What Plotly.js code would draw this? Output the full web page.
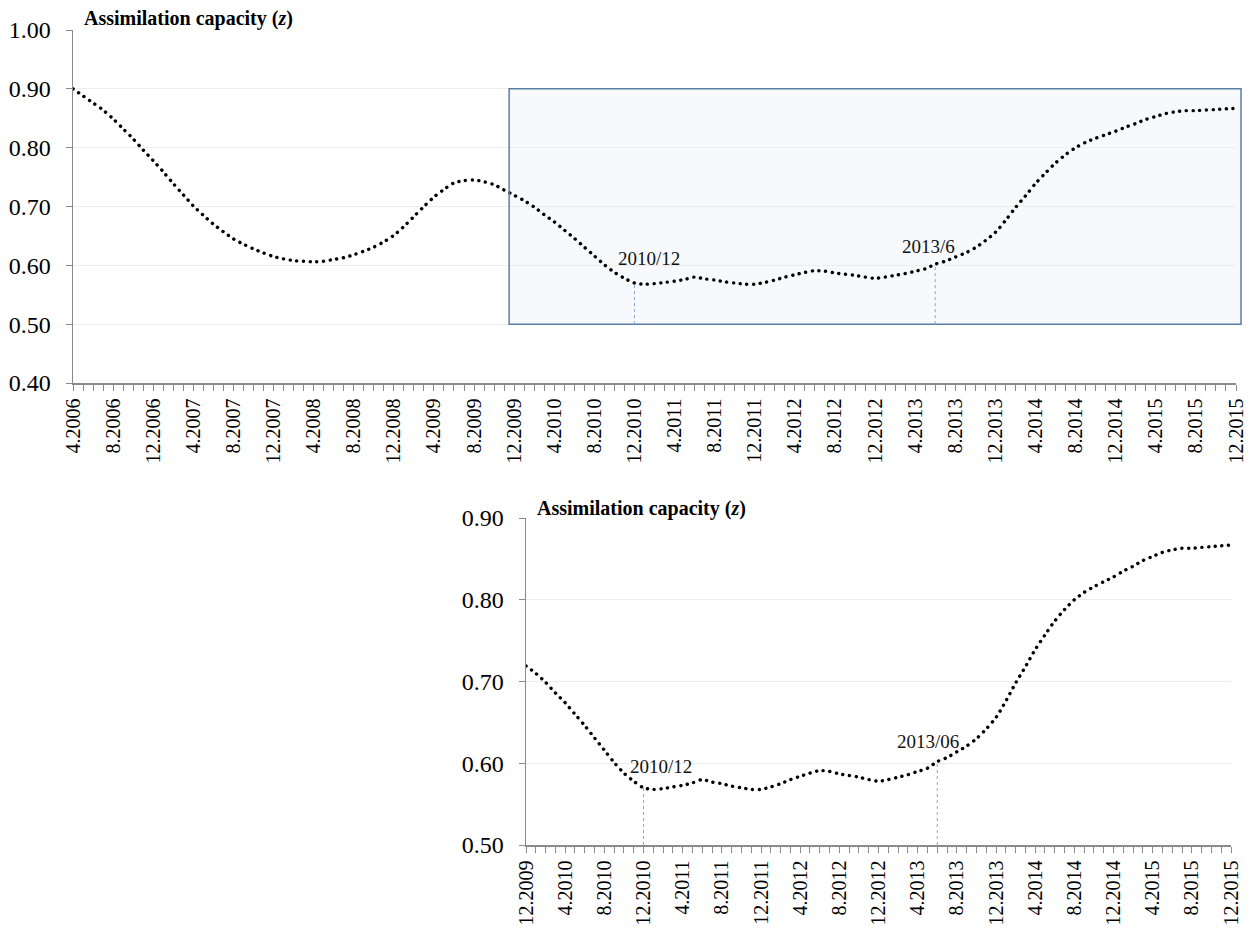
<!DOCTYPE html>
<html>
<head>
<meta charset="utf-8">
<script src="https://cdn.plot.ly/plotly-3.0.1.min.js"></script>
<style>
  html, body { margin: 0; padding: 0; background: #fff; }
  #chart { width: 1258px; height: 934px; }
  .js-line { stroke-linecap: round !important; }
</style>
</head>
<body>
<div id="chart"></div>
<script>
// Monthly assimilation capacity z, April 2006 – December 2015
const z2006 = [0.900, 0.888, 0.876, 0.864, 0.849, 0.832, 0.815, 0.796, 0.778];            // Apr–Dec
const z2007 = [0.759, 0.739, 0.720, 0.701, 0.685, 0.670, 0.657, 0.645, 0.636, 0.628, 0.621, 0.615];
const z2008 = [0.611, 0.608, 0.607, 0.606, 0.607, 0.610, 0.613, 0.618, 0.624, 0.631, 0.640, 0.651];
const z2009 = [0.666, 0.683, 0.700, 0.716, 0.729, 0.740, 0.744, 0.745, 0.742, 0.737, 0.728, 0.719];
const z2010 = [0.710, 0.699, 0.686, 0.674, 0.660, 0.646, 0.631, 0.616, 0.601, 0.588, 0.578, 0.570];
const z2011 = [0.568, 0.569, 0.571, 0.573, 0.576, 0.580, 0.577, 0.575, 0.572, 0.570, 0.568, 0.568];
const z2012 = [0.571, 0.575, 0.580, 0.584, 0.588, 0.591, 0.590, 0.587, 0.585, 0.583, 0.580, 0.578];
const z2013 = [0.580, 0.583, 0.586, 0.590, 0.594, 0.602, 0.607, 0.614, 0.621, 0.630, 0.642, 0.656];
const z2014 = [0.676, 0.698, 0.718, 0.739, 0.757, 0.774, 0.788, 0.800, 0.809, 0.816, 0.822, 0.828];
const z2015 = [0.835, 0.841, 0.848, 0.853, 0.858, 0.861, 0.863, 0.863, 0.864, 0.865, 0.866, 0.867];

// Tick labels shown every 4 months
const tickLabels = ["4.2006","8.2006","12.2006","4.2007","8.2007","12.2007","4.2008","8.2008","12.2008",
  "4.2009","8.2009","12.2009","4.2010","8.2010","12.2010","4.2011","8.2011","12.2011",
  "4.2012","8.2012","12.2012","4.2013","8.2013","12.2013","4.2014","8.2014","12.2014",
  "4.2015","8.2015","12.2015"];

const zoomStart = "12.2009";          // start of highlighted period / lower panel
const boxRange = [0.5, 0.9];          // highlighted band in the upper panel
const markers = [
  {month: "12.2010", top: "2010/12", bottom: "2010/12"},
  {month: "6.2013",  top: "2013/6",  bottom: "2013/06"}
];

// ---- build
const z = [].concat(z2006, z2007, z2008, z2009, z2010, z2011, z2012, z2013, z2014, z2015);
const idx = z.map((_, i) => i);
const tickVals = tickLabels.map((_, k) => 4 * k);
function monthIndex(lbl) {
  const [m, y] = lbl.split(".").map(Number);
  return (y - 2006) * 12 + (m - 4);
}
const zs = monthIndex(zoomStart);
const last = idx[idx.length - 1];

const FONT = "'Liberation Serif', 'Times New Roman', Times, serif";
const AXC = "#8a8a8a";
const GRIDC = "#ededed";

const lineStyle = {color: "#000", width: 3.4, dash: "0.1px,6.6px", shape: "spline", smoothing: 0.8};

const traces = [
  {x: idx, y: z, type: "scatter", mode: "lines", line: lineStyle, xaxis: "x", yaxis: "y", hoverinfo: "skip"},
  {x: idx.slice(zs), y: z.slice(zs), type: "scatter", mode: "lines", line: lineStyle, xaxis: "x2", yaxis: "y2", hoverinfo: "skip"}
];

const W = 1258, H = 934, ML = 73, MR = 22;
const PW = W - ML - MR;
const xDom1 = [0, 1];
const xDom2 = [(526 - ML) / PW, (1231 - ML) / PW];
const yDom1 = [1 - 383 / H, 1 - 30 / H];
const yDom2 = [1 - 845 / H, 1 - 518 / H];
const xRange1 = [0, last];
const xRange2 = [zs, last];
const yRange1 = [0.4, 1.0];
const yRange2 = [0.5, 0.9];

function toPaper(dom, rng, v) { return dom[0] + (v - rng[0]) / (rng[1] - rng[0]) * (dom[1] - dom[0]); }

function xAxis(dom, rng, anchor) {
  return {
    domain: dom, range: rng, anchor: anchor,
    tickmode: "array", tickvals: tickVals, ticktext: tickLabels, tickangle: -90,
    ticks: "outside", ticklen: 6, tickwidth: 1, tickcolor: AXC,
    minor: {tickmode: "linear", tick0: 0, dtick: 1, ticks: "outside", ticklen: 6, tickwidth: 1, tickcolor: AXC, showgrid: false},
    showline: true, linecolor: AXC, linewidth: 1.5, showgrid: false, zeroline: false,
    tickfont: {family: FONT, size: 20, color: "#000"}, fixedrange: true
  };
}
function yAxis(dom, rng, anchor) {
  return {
    domain: dom, range: rng, anchor: anchor, dtick: 0.1, tick0: 0, tickformat: ".2f",
    ticks: "outside", ticklen: 6, tickwidth: 1, tickcolor: AXC, ticklabelstandoff: 10,
    showline: true, linecolor: AXC, linewidth: 1.5,
    showgrid: true, gridcolor: GRIDC, gridwidth: 1, zeroline: false,
    tickfont: {family: FONT, size: 24, color: "#000"}, fixedrange: true
  };
}

const box = {
  x0: toPaper(xDom1, xRange1, zs - 0.5), x1: toPaper(xDom1, xRange1, last + 0.5),
  y0: toPaper(yDom1, yRange1, boxRange[0]), y1: toPaper(yDom1, yRange1, boxRange[1])
};
const shapes = [
  Object.assign({type: "rect", layer: "below", xref: "paper", yref: "paper",
    fillcolor: "#f7f9fc", line: {width: 0}}, box),
  Object.assign({type: "rect", layer: "above", xref: "paper", yref: "paper",
    fillcolor: "rgba(0,0,0,0)", line: {color: "#5b7ea6", width: 1.5}}, box)
];
const annotations = [
  {xref: "paper", yref: "paper", x: (82 - ML) / PW, y: 1 - 18 / H, xanchor: "left", yanchor: "middle", showarrow: false,
   text: "<b>Assimilation capacity (<i>z</i>)</b>", font: {family: FONT, size: 20, color: "#000"}},
  {xref: "paper", yref: "paper", x: (535 - ML) / PW, y: 1 - 508 / H, xanchor: "left", yanchor: "middle", showarrow: false,
   text: "<b>Assimilation capacity (<i>z</i>)</b>", font: {family: FONT, size: 20, color: "#000"}}
];
const shiftsTop = [[15, 24], [-7, 18]];
const shiftsBot = [[17, 21], [-9, 20]];
markers.forEach((m, k) => {
  const i = monthIndex(m.month);
  const v = z[i];
  shapes.push({type: "line", xref: "x", yref: "y", x0: i, x1: i, y0: boxRange[0], y1: v, line: {color: "#7fa8dd", width: 1, dash: "dot"}});
  shapes.push({type: "line", xref: "x2", yref: "y2", x0: i, x1: i, y0: yRange2[0], y1: v, line: {color: "#7fa8dd", width: 1, dash: "dot"}});
  annotations.push({xref: "x", yref: "y", x: i, y: v, text: m.top, showarrow: false, xanchor: "center", yanchor: "middle",
    xshift: shiftsTop[k][0], yshift: shiftsTop[k][1], font: {family: FONT, size: 19, color: "#111"}});
  annotations.push({xref: "x2", yref: "y2", x: i, y: v, text: m.bottom, showarrow: false, xanchor: "center", yanchor: "middle",
    xshift: shiftsBot[k][0], yshift: shiftsBot[k][1], font: {family: FONT, size: 19, color: "#111"}});
});

const layout = {
  width: W, height: H, margin: {l: ML, r: MR, t: 0, b: 0},
  paper_bgcolor: "#fff", plot_bgcolor: "rgba(0,0,0,0)", showlegend: false,
  font: {family: FONT, color: "#000"},
  xaxis: xAxis(xDom1, xRange1, "y"), yaxis: yAxis(yDom1, yRange1, "x"),
  xaxis2: xAxis(xDom2, xRange2, "y2"), yaxis2: yAxis(yDom2, yRange2, "x2"),
  shapes: shapes, annotations: annotations
};

Plotly.newPlot("chart", traces, layout, {displayModeBar: false, staticPlot: true});
</script>
</body>
</html>
